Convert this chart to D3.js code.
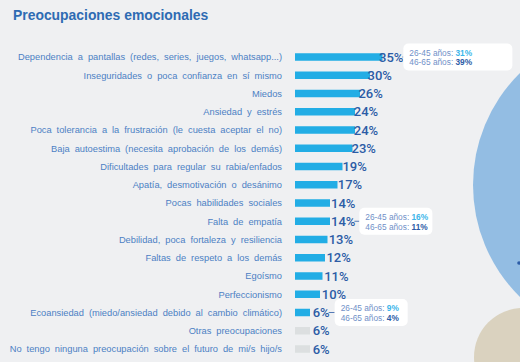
<!DOCTYPE html>
<html>
<head>
<meta charset="utf-8">
<script src="https://cdn.jsdelivr.net/npm/d3@7"></script>
<style>
  html, body { margin: 0; padding: 0; background: #eff0f2; }
  svg { display: block; }
</style>
</head>
<body>
<div id="chart"></div>
<script>
// data
const categories = [
    'Dependencia a pantallas (redes, series, juegos, whatsapp...)',
    'Inseguridades o poca confianza en sí mismo',
    'Miedos',
    'Ansiedad y estrés',
    'Poca tolerancia a la frustración (le cuesta aceptar el no)',
    'Baja autoestima (necesita aprobación de los demás)',
    'Dificultades para regular su rabia/enfados',
    'Apatía, desmotivación o desánimo',
    'Pocas habilidades sociales',
    'Falta de empatía',
    'Debilidad, poca fortaleza y resiliencia',
    'Faltas de respeto a los demás',
    'Egoísmo',
    'Perfeccionismo',
    'Ecoansiedad (miedo/ansiedad debido al cambio climático)',
    'Otras preocupaciones',
    'No tengo ninguna preocupación sobre el futuro de mi/s hijo/s'
];
const values = [35, 30, 26, 24, 24, 23, 19, 17, 14, 14, 13, 12, 11, 10, 6, 6, 6];
const isGrey = [0, 0, 0, 0, 0, 0, 0, 0, 0, 0, 0, 0, 0, 0, 0, 1, 1];

// age breakdown call-outs
const noteRows = [0, 9, 14];
const noteYoung = [31, 16, 9];
const noteOld = [39, 11, 4];

const width = 520, height = 362;
const colors = {
    bar: '#22ade5',
    grey: '#dcdfe0',
    label: '#4c80c4',
    value: '#2c5ca6',
    title: '#2e6bb3',
    young: '#3cb6ea'
};
const boxWidths = [109, 73, 73];
const boxGaps = [0, 4, 5];

const svg = d3.select('#chart').append('svg')
    .attr('width', width)
    .attr('height', height);

// background decorations
svg.append('circle').attr('cx', 630).attr('cy', 185).attr('r', 157).attr('fill', '#93bde3');
svg.append('circle').attr('cx', 523).attr('cy', 357).attr('r', 49).attr('fill', '#dad2bf');
svg.append('circle').attr('cx', 519).attr('cy', 263).attr('r', 1.8).attr('fill', '#2c5ca6');

svg.append('text')
    .attr('x', 13)
    .attr('y', 20)
    .attr('font-family', 'Liberation Sans, Arial, sans-serif')
    .attr('font-size', 13.9)
    .attr('font-weight', 'bold')
    .attr('fill', colors.title)
    .text('Preocupaciones emocionales');

const x = d3.scaleLinear().domain([0, 35]).range([295, 382.5]);
const labelX = d3.scaleLinear().domain([0, 35]).range([299, 379]);
const y = d3.scalePoint().domain(d3.range(categories.length)).range([57, 349]);
const barH = 7.5;

const rows = svg.append('g').selectAll('g')
    .data(values)
    .enter().append('g');

rows.append('text')
    .attr('x', 282)
    .attr('y', (d, i) => y(i))
    .attr('dy', '0.35em')
    .attr('text-anchor', 'end')
    .attr('font-family', 'Liberation Sans, Arial, sans-serif')
    .attr('font-size', 9.3)
    .attr('word-spacing', 2.4)
    .attr('fill', colors.label)
    .text((d, i) => categories[i]);

rows.append('rect')
    .attr('x', x(0))
    .attr('y', (d, i) => y(i) - barH / 2)
    .attr('width', d => x(d) - x(0))
    .attr('height', barH)
    .attr('fill', (d, i) => isGrey[i] ? colors.grey : colors.bar);

const valueText = rows.append('text')
    .attr('x', d => labelX(d))
    .attr('y', (d, i) => y(i))
    .attr('dy', '0.36em')
    .attr('font-family', 'Roboto, sans-serif')
    .attr('font-size', 13)
    .attr('font-weight', 500)
    .attr('fill', colors.value)
    .text(d => d + '%');

// call-out boxes
noteRows.forEach((r, k) => {
    const bb = valueText.nodes()[r].getBBox();
    const bx = bb.x + bb.width + boxGaps[k];
    const cy = y(r);
    const g = svg.append('g');
    g.append('line')
        .attr('x1', bb.x + bb.width - 1).attr('x2', bx)
        .attr('y1', cy).attr('y2', cy)
        .attr('stroke', colors.value).attr('stroke-width', 0.8);
    g.append('rect')
        .attr('x', bx).attr('y', cy - 13.5)
        .attr('width', boxWidths[k]).attr('height', 27)
        .attr('rx', 5)
        .attr('fill', '#ffffff');
    const lines = [['26-45 años: ', noteYoung[k], colors.young], ['46-65 años: ', noteOld[k], colors.value]];
    lines.forEach((l, j) => {
        const t = g.append('text')
            .attr('x', bx + 6)
            .attr('y', cy - 1.2 + j * 9.5)
            .attr('font-family', 'Liberation Sans, Arial, sans-serif')
            .attr('font-size', 8.3)
            .attr('fill', '#7090c8');
        t.append('tspan').text(l[0]);
        t.append('tspan').attr('font-weight', 'bold').attr('fill', l[2]).text(l[1] + '%');
    });
});
</script>
</body>
</html>
